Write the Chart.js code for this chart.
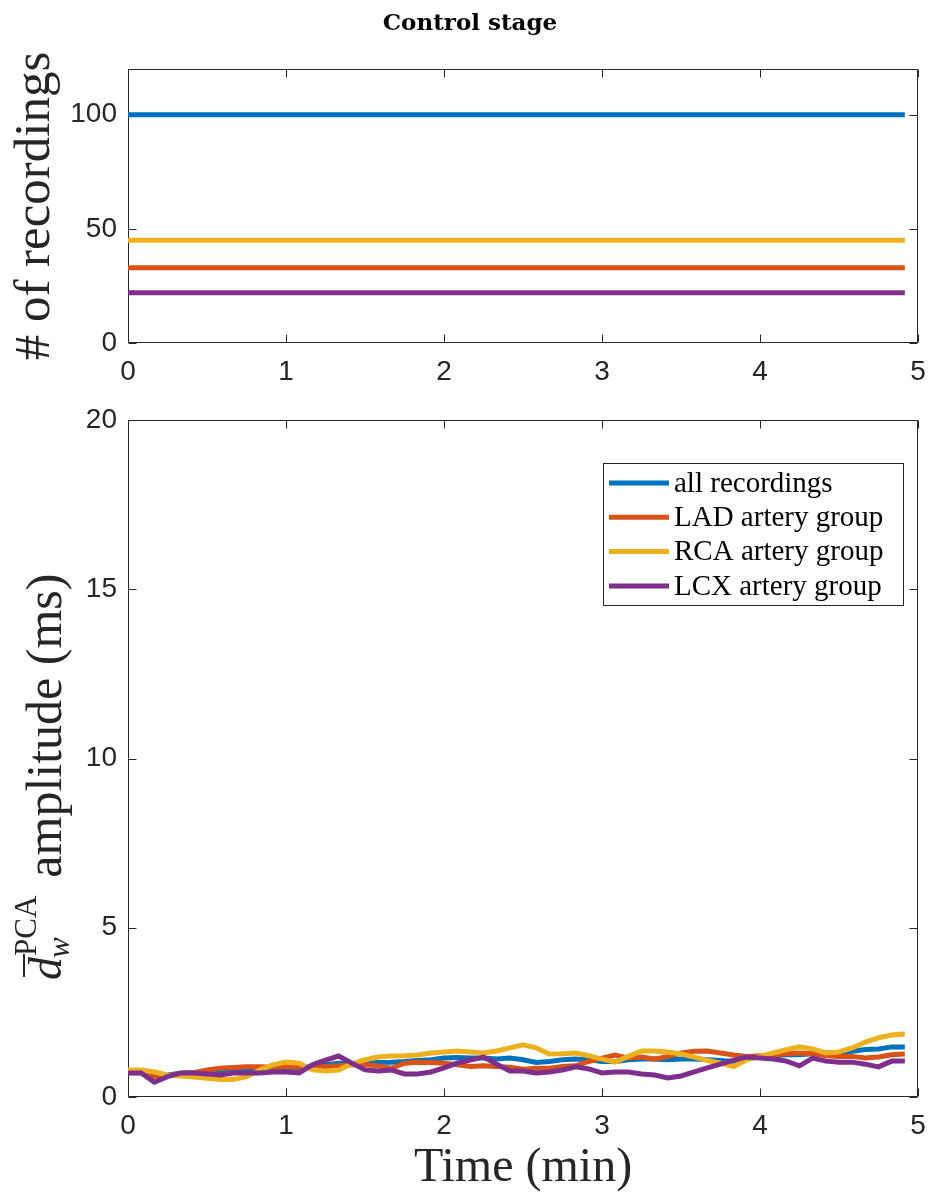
<!DOCTYPE html>
<html>
<head>
<meta charset="utf-8">
<script src="https://cdn.jsdelivr.net/npm/chart.js@4.4.0/dist/chart.umd.min.js"></script>
<style>
  html, body { margin: 0; padding: 0; background: #fff; }
  #wrap { position: relative; width: 933px; height: 1201px; }
  #topChart { position: absolute; left: 0; top: 0; }
  #botChart { position: absolute; left: 0; top: 400px; }
</style>
</head>
<body>
<div id="wrap">
  <canvas id="topChart" width="933" height="400"></canvas>
  <canvas id="botChart" width="933" height="801"></canvas>
</div>
<script>
// time axis (seconds), one sample every 5 s
const timeSec = [0, 5, 10, 15, 20, 25, 30, 35, 40, 45, 50, 55, 60, 65, 70, 75, 80, 85, 90, 95,
  100, 105, 110, 115, 120, 125, 130, 135, 140, 145, 150, 155, 160, 165, 170, 175, 180, 185, 190, 195,
  200, 205, 210, 215, 220, 225, 230, 235, 240, 245, 250, 255, 260, 265, 270, 275, 280, 285, 290, 295];

// d_w^PCA amplitude (ms)
const allRec = [0.75, 0.72, 0.62, 0.65, 0.70, 0.72, 0.75, 0.75, 0.78, 0.80,
  0.85, 0.88, 0.85, 0.85, 0.90, 0.95, 1.00, 0.98, 1.00, 1.02,
  1.03, 1.05, 1.08, 1.10, 1.15, 1.17, 1.15, 1.15, 1.12, 1.15,
  1.10, 1.02, 1.05, 1.10, 1.12, 1.10, 1.05, 1.05, 1.10, 1.12,
  1.12, 1.10, 1.12, 1.12, 1.10, 1.08, 1.05, 1.15, 1.20, 1.22,
  1.25, 1.25, 1.28, 1.30, 1.30, 1.35, 1.40, 1.42, 1.48, 1.48];
const ladGroup = [0.72, 0.72, 0.62, 0.62, 0.68, 0.72, 0.80, 0.85, 0.87, 0.89,
  0.89, 0.88, 0.90, 0.88, 0.88, 0.90, 0.92, 0.95, 0.95, 0.92,
  0.85, 1.00, 1.03, 1.02, 1.00, 0.95, 0.90, 0.92, 0.90, 0.88,
  0.82, 0.85, 0.85, 0.90, 0.92, 1.05, 1.15, 1.24, 1.15, 1.18,
  1.12, 1.20, 1.30, 1.35, 1.36, 1.30, 1.24, 1.20, 1.22, 1.24,
  1.28, 1.30, 1.28, 1.22, 1.20, 1.20, 1.15, 1.18, 1.25, 1.27];
const rcaGroup = [0.80, 0.80, 0.74, 0.65, 0.62, 0.59, 0.55, 0.52, 0.52, 0.60,
  0.80, 0.95, 1.03, 1.00, 0.80, 0.77, 0.80, 0.98, 1.10, 1.18,
  1.21, 1.22, 1.24, 1.30, 1.33, 1.36, 1.33, 1.30, 1.36, 1.45,
  1.54, 1.45, 1.27, 1.28, 1.30, 1.22, 1.12, 1.03, 1.20, 1.36,
  1.36, 1.33, 1.27, 1.18, 1.08, 1.00, 0.90, 1.10, 1.20, 1.30,
  1.40, 1.48, 1.42, 1.30, 1.33, 1.45, 1.62, 1.75, 1.83, 1.86];
const lcxGroup = [0.71, 0.71, 0.44, 0.60, 0.71, 0.71, 0.68, 0.65, 0.71, 0.71,
  0.71, 0.74, 0.74, 0.71, 0.95, 1.09, 1.21, 1.00, 0.80, 0.77,
  0.80, 0.68, 0.68, 0.74, 0.86, 1.00, 1.09, 1.18, 0.97, 0.77,
  0.77, 0.71, 0.74, 0.80, 0.89, 0.83, 0.71, 0.74, 0.74, 0.68,
  0.65, 0.56, 0.62, 0.74, 0.86, 0.97, 1.09, 1.18, 1.15, 1.12,
  1.06, 0.92, 1.15, 1.06, 1.03, 1.03, 0.97, 0.89, 1.06, 1.06];

// # of recordings (constant over the stage)
const countTime = [0, 295];
const countAll = [100, 100];
const countLad = [33, 33];
const countRca = [45, 45];
const countLcx = [22, 22];

const seriesNames = ['all recordings', 'LAD artery group', 'RCA artery group', 'LCX artery group'];
const seriesColors = ['#0072BD', '#D95319', '#EDB120', '#7E2F8E'];

const xTicks = [0, 1, 2, 3, 4, 5];
const topYTicks = [0, 50, 100];
const botYTicks = [0, 5, 10, 15, 20];

const axisColor = '#262626';
const tickFont = { family: '"Liberation Sans", Arial, sans-serif', size: 28 };
const serif = '"Liberation Serif", "Times New Roman", serif';

function toPoints(times, values) {
    return times.map((t, i) => ({ x: t / 60, y: values[i] }));
}

function makeDatasets(times, lists) {
    // purple drawn on top, like the original plot order
    return lists.map((vals, i) => ({
        label: seriesNames[i],
        data: toPoints(times, vals),
        borderColor: seriesColors[i],
        borderWidth: 5,
        pointRadius: 0,
        tension: 0,
        fill: false,
        order: lists.length - i
    }));
}

// MATLAB style box with inward ticks
const framePlugin = {
    id: 'matlabFrame',
    beforeDatasetsDraw(chart) {
        const { ctx, chartArea: a, scales: { x, y } } = chart;
        const L = Math.round(a.left) + 0.5, R = Math.round(a.right) - 0.5;
        const T = Math.round(a.top) + 0.5, B = Math.round(a.bottom) - 0.5;
        ctx.save();
        ctx.strokeStyle = axisColor;
        ctx.lineWidth = 1;
        ctx.beginPath();
        ctx.rect(L, T, R - L, B - T);
        x.ticks.forEach(t => {
            const px = Math.round(x.getPixelForValue(t.value)) + 0.5;
            ctx.moveTo(px, B); ctx.lineTo(px, B - 8);
            ctx.moveTo(px, T); ctx.lineTo(px, T + 8);
        });
        y.ticks.forEach(t => {
            const py = Math.round(y.getPixelForValue(t.value)) + 0.5;
            ctx.moveTo(L, py); ctx.lineTo(L + 8, py);
            ctx.moveTo(R, py); ctx.lineTo(R - 8, py);
        });
        ctx.stroke();
        ctx.restore();
    }
};

const titlePlugin = {
    id: 'stageTitle',
    afterDraw(chart) {
        const ctx = chart.ctx;
        ctx.save();
        ctx.fillStyle = '#000';
        ctx.font = 'bold 23px "DejaVu Serif", serif';
        ctx.textAlign = 'center';
        ctx.textBaseline = 'middle';
        ctx.fillText('Control stage', 470, 24);
        ctx.restore();
    }
};

const legendPlugin = {
    id: 'boxLegend',
    afterDraw(chart) {
        const { ctx, chartArea: a } = chart;
        const right = a.right - 15, left = right - 300;
        const top = a.top + 43, rowH = 34.3;
        ctx.save();
        ctx.fillStyle = '#fff';
        ctx.fillRect(left, top, right - left, 142);
        ctx.strokeStyle = axisColor;
        ctx.lineWidth = 1;
        ctx.strokeRect(Math.round(left) + 0.5, Math.round(top) + 0.5, right - left, 142);
        ctx.font = '29px ' + serif;
        ctx.textBaseline = 'middle';
        chart.data.datasets.forEach((ds, i) => {
            const cy = top + 20 + i * rowH;
            ctx.strokeStyle = ds.borderColor;
            ctx.lineWidth = 5;
            ctx.beginPath();
            ctx.moveTo(left + 6, cy); ctx.lineTo(left + 66, cy);
            ctx.stroke();
            ctx.fillStyle = '#000';
            ctx.fillText(ds.label, left + 71, cy + 1);
        });
        ctx.restore();
    }
};

// \bar{d}_w^{PCA} amplitude (ms)
const dLabelPlugin = {
    id: 'dLabel',
    afterDraw(chart) {
        const ctx = chart.ctx;
        ctx.save();
        ctx.translate(61, 580);
        ctx.rotate(-Math.PI / 2);
        ctx.fillStyle = axisColor;
        ctx.strokeStyle = axisColor;
        ctx.textAlign = 'left';
        ctx.textBaseline = 'alphabetic';
        ctx.font = 'italic 46px ' + serif;
        ctx.fillText('d', 0, 0);
        const dW = ctx.measureText('d').width;
        ctx.lineWidth = 2;
        ctx.beginPath();
        ctx.moveTo(3, -37); ctx.lineTo(dW + 3, -37);
        ctx.stroke();
        ctx.font = 'italic 31px ' + serif;
        ctx.fillText('w', dW - 1, 8);
        const wEnd = dW - 1 + ctx.measureText('w').width;
        ctx.font = '31px ' + serif;
        ctx.fillText('PCA', dW + 1, -25);
        const pEnd = dW + 1 + ctx.measureText('PCA').width;
        ctx.font = '50px ' + serif;
        ctx.fillText('amplitude (ms)', Math.max(wEnd, pEnd) + 18, 0);
        ctx.restore();
    }
};

function xScale(showTitle) {
    return {
        type: 'linear', min: 0, max: 5,
        afterBuildTicks: s => { s.ticks = xTicks.map(v => ({ value: v })); },
        ticks: { color: axisColor, font: tickFont, padding: 12, maxRotation: 0 },
        grid: { display: false, drawTicks: false },
        border: { display: false },
        title: {
            display: showTitle, text: 'Time (min)', color: axisColor,
            font: { family: serif, size: 48 }, padding: { top: 0, bottom: 4 }
        }
    };
}

function yScale(max, tickList, titleText) {
    return {
        type: 'linear', min: 0, max: max,
        afterBuildTicks: s => { s.ticks = tickList.map(v => ({ value: v })); },
        ticks: { color: axisColor, font: tickFont, padding: 11 },
        grid: { display: false, drawTicks: false },
        border: { display: false },
        title: {
            display: !!titleText, text: titleText || '', color: axisColor,
            font: { family: serif, size: 51 }, padding: { top: 5, bottom: 0 }
        }
    };
}

const topCfg = {
    type: 'line',
    data: {
        datasets: makeDatasets(countTime, [countAll, countLad, countRca, countLcx])
    },
    options: {
        responsive: false,
        animation: false,
        events: [],
        layout: { padding: { top: 69, right: 15, left: 0, bottom: 0 } },
        plugins: { legend: { display: false }, tooltip: { enabled: false } },
        scales: { x: xScale(false), y: yScale(120, topYTicks, '# of recordings') }
    },
    plugins: [framePlugin, titlePlugin]
};
topCfg.options.scales.x.afterFit = s => { s.height = 57; s.paddingLeft = 0; s.paddingRight = 0; };
topCfg.options.scales.y.afterFit = s => { s.width = 128; s.paddingTop = 0; s.paddingBottom = 0; };

const botCfg = {
    type: 'line',
    data: {
        datasets: makeDatasets(timeSec, [allRec, ladGroup, rcaGroup, lcxGroup])
    },
    options: {
        responsive: false,
        animation: false,
        events: [],
        layout: { padding: { top: 20, right: 15, left: 0, bottom: 0 } },
        plugins: { legend: { display: false }, tooltip: { enabled: false } },
        scales: { x: xScale(true), y: yScale(20, botYTicks, null) }
    },
    plugins: [framePlugin, legendPlugin, dLabelPlugin]
};
botCfg.options.scales.x.afterFit = s => { s.height = 104; s.paddingLeft = 0; s.paddingRight = 0; };
botCfg.options.scales.y.afterFit = s => { s.width = 128; s.paddingTop = 0; s.paddingBottom = 0; };

new Chart(document.getElementById('topChart'), topCfg);
new Chart(document.getElementById('botChart'), botCfg);
</script>
</body>
</html>
